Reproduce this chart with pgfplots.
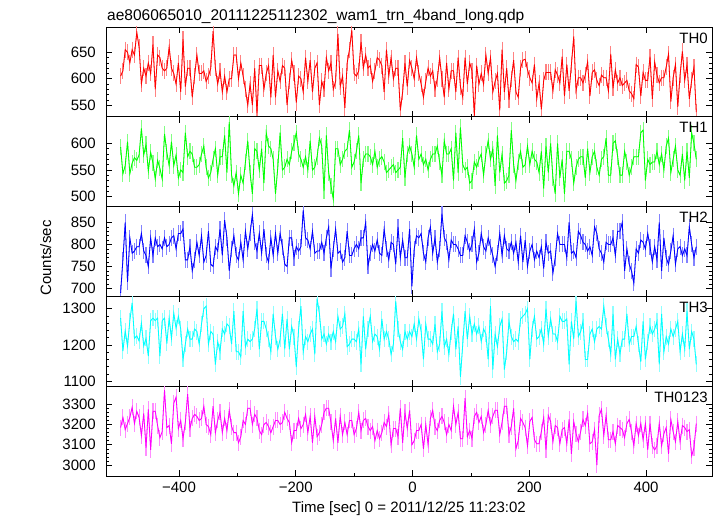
\documentclass[border=0pt]{standalone}
\usepackage{pgfplots}
\usepackage{pgfplotstable}
\pgfplotsset{compat=1.18}
\usepackage{fontspec}
\setmainfont{Liberation Sans}
\definecolor{cR}{RGB}{255,0,0}
\definecolor{cG}{RGB}{0,255,0}
\definecolor{cB}{RGB}{0,0,255}
\definecolor{cC}{RGB}{0,255,255}
\definecolor{cM}{RGB}{255,0,255}
\definecolor{lR}{RGB}{255,130,130}
\definecolor{lG}{RGB}{130,255,130}
\definecolor{lB}{RGB}{130,130,255}
\definecolor{lC}{RGB}{140,255,255}
\definecolor{lM}{RGB}{255,140,255}

\pgfplotstableread[row sep=\\]{y\\
605\\615\\655\\650\\630\\655\\645\\688\\660\\590\\620\\605\\630\\610\\665\\580\\645\\640\\620\\615\\620\\660\\620\\610\\590\\
630\\575\\675\\585\\620\\620\\565\\605\\645\\610\\610\\615\\595\\605\\620\\690\\620\\590\\615\\575\\605\\575\\600\\600\\645\\
645\\600\\630\\605\\580\\550\\590\\550\\620\\535\\625\\625\\580\\610\\625\\565\\645\\565\\615\\595\\625\\620\\550\\595\\635\\
610\\555\\605\\600\\575\\640\\595\\635\\575\\620\\630\\550\\595\\580\\640\\615\\630\\580\\595\\685\\585\\605\\545\\630\\655\\
692\\610\\605\\615\\670\\620\\645\\620\\625\\595\\615\\640\\635\\625\\575\\655\\605\\640\\600\\620\\620\\540\\575\\630\\585\\
635\\620\\600\\640\\610\\590\\565\\595\\620\\605\\615\\580\\600\\640\\600\\565\\630\\580\\615\\615\\575\\640\\585\\565\\640\\
590\\630\\615\\530\\625\\590\\610\\590\\645\\610\\640\\575\\595\\610\\540\\655\\575\\620\\560\\600\\635\\575\\565\\620\\635\\
637\\617\\602\\592\\627\\562\\592\\542\\597\\612\\612\\612\\577\\617\\607\\592\\642\\567\\627\\577\\627\\680\\577\\602\\602\\
592\\607\\632\\567\\612\\617\\597\\587\\607\\602\\602\\577\\647\\582\\617\\592\\602\\587\\592\\597\\577\\572\\562\\627\\622\\
567\\612\\597\\597\\642\\562\\632\\607\\592\\602\\602\\622\\647\\557\\602\\627\\547\\607\\652\\597\\627\\562\\597\\622\\537\\
}\tzero

\pgfplotstableread[row sep=\\]{y\\
593\\543\\558\\603\\543\\563\\573\\568\\578\\628\\578\\598\\548\\583\\563\\533\\568\\553\\533\\618\\583\\558\\603\\558\\578\\
535\\550\\545\\620\\575\\585\\580\\555\\555\\560\\580\\595\\555\\535\\545\\570\\590\\540\\575\\575\\615\\545\\640\\540\\520\\
545\\505\\540\\525\\565\\605\\545\\505\\590\\585\\550\\590\\525\\620\\595\\590\\570\\505\\555\\620\\550\\555\\570\\560\\585\\
600\\620\\580\\570\\555\\575\\550\\605\\550\\555\\575\\610\\595\\510\\615\\545\\520\\495\\590\\590\\560\\570\\585\\590\\625\\
555\\565\\585\\615\\525\\570\\580\\580\\575\\560\\585\\555\\570\\575\\565\\545\\550\\555\\560\\545\\550\\555\\610\\535\\580\\
595\\580\\555\\615\\570\\580\\560\\570\\550\\570\\580\\580\\595\\565\\540\\605\\580\\580\\590\\530\\620\\545\\630\\560\\550\\
555\\525\\530\\565\\555\\570\\580\\540\\580\\605\\570\\590\\520\\615\\545\\580\\525\\530\\540\\625\\560\\530\\565\\585\\555\\
560\\595\\560\\585\\570\\565\\545\\585\\515\\595\\545\\600\\535\\505\\600\\535\\570\\505\\585\\585\\570\\525\\555\\570\\575\\
575\\535\\590\\545\\575\\585\\555\\540\\570\\575\\610\\540\\540\\600\\605\\575\\540\\540\\585\\565\\540\\555\\575\\575\\575\\
620\\625\\530\\570\\560\\565\\565\\585\\560\\580\\550\\595\\610\\545\\570\\595\\550\\540\\580\\530\\585\\535\\620\\600\\570\\
}\tone

\pgfplotstableread[row sep=\\]{y\\
690\\765\\850\\715\\815\\780\\785\\795\\795\\825\\785\\775\\750\\815\\775\\815\\795\\800\\790\\815\\795\\800\\815\\820\\790\\
825\\825\\835\\765\\765\\795\\740\\765\\805\\775\\820\\760\\775\\830\\755\\750\\795\\785\\835\\775\\855\\815\\740\\790\\820\\
775\\765\\805\\765\\830\\790\\825\\868\\805\\785\\825\\780\\835\\775\\760\\815\\775\\825\\780\\825\\795\\755\\750\\815\\815\\
770\\795\\785\\795\\878\\815\\810\\790\\830\\780\\785\\785\\805\\780\\815\\840\\745\\790\\835\\780\\785\\760\\770\\830\\775\\
775\\790\\800\\790\\815\\815\\850\\750\\780\\800\\785\\810\\780\\775\\835\\790\\765\\805\\800\\755\\840\\770\\810\\770\\770\\
835\\705\\790\\820\\815\\825\\780\\760\\815\\840\\780\\815\\760\\790\\870\\815\\805\\765\\810\\800\\800\\790\\775\\775\\820\\
805\\785\\800\\835\\760\\780\\825\\795\\785\\815\\795\\775\\750\\780\\825\\775\\820\\790\\785\\805\\780\\805\\760\\820\\760\\
810\\750\\785\\800\\765\\785\\770\\795\\745\\805\\780\\785\\735\\770\\825\\800\\800\\800\\770\\850\\780\\785\\770\\830\\820\\
805\\800\\785\\795\\775\\840\\825\\790\\780\\760\\805\\800\\800\\815\\775\\830\\830\\850\\740\\790\\755\\740\\712\\790\\780\\
810\\805\\790\\825\\795\\760\\795\\765\\850\\740\\815\\770\\755\\785\\820\\755\\790\\795\\775\\790\\775\\840\\800\\770\\795\\
}\ttwo

\pgfplotstableread[row sep=\\]{y\\
1274\\1183\\1239\\1197\\1267\\1316\\1218\\1225\\1211\\1260\\1197\\1218\\1169\\1267\\1274\\1267\\1274\\1169\\1267\\1274\\1204\\1274\\1218\\1288\\1246\\
1279\\1244\\1160\\1202\\1244\\1216\\1216\\1244\\1237\\1202\\1258\\1300\\1307\\1202\\1237\\1230\\1146\\1209\\1181\\1244\\1230\\1258\\1251\\1202\\1293\\
1181\\1181\\1167\\1293\\1195\\1216\\1209\\1216\\1244\\1300\\1188\\1265\\1265\\1244\\1216\\1181\\1286\\1223\\1188\\1216\\1286\\1188\\1272\\1188\\1251\\
1223\\1139\\1244\\1307\\1181\\1223\\1209\\1230\\1244\\1174\\1328\\1286\\1216\\1230\\1202\\1230\\1209\\1237\\1209\\1279\\1244\\1251\\1286\\1195\\1202\\
1216\\1216\\1209\\1244\\1146\\1279\\1188\\1244\\1279\\1209\\1230\\1223\\1188\\1272\\1216\\1237\\1216\\1174\\1202\\1321\\1244\\1209\\1188\\1237\\1216\\
1237\\1223\\1258\\1216\\1272\\1237\\1160\\1258\\1216\\1216\\1202\\1258\\1181\\1202\\1293\\1195\\1216\\1174\\1237\\1286\\1188\\1251\\1112\\1202\\1293\\
1216\\1279\\1230\\1258\\1230\\1251\\1209\\1244\\1230\\1160\\1307\\1132\\1230\\1195\\1251\\1272\\1132\\1181\\1265\\1223\\1209\\1216\\1209\\1272\\1279\\
1286\\1300\\1160\\1244\\1279\\1216\\1223\\1244\\1202\\1300\\1223\\1272\\1230\\1230\\1209\\1279\\1265\\1265\\1272\\1146\\1265\\1216\\1321\\1223\\1237\\
1265\\1160\\1160\\1230\\1244\\1209\\1244\\1251\\1244\\1307\\1251\\1216\\1174\\1286\\1160\\1216\\1174\\1216\\1216\\1286\\1202\\1223\\1223\\1251\\1202\\
1153\\1265\\1160\\1209\\1251\\1230\\1244\\1265\\1146\\1286\\1181\\1223\\1202\\1244\\1223\\1244\\1265\\1181\\1230\\1188\\1293\\1188\\1237\\1216\\1146\\
}\tthree

\pgfplotstableread[row sep=\\]{y\\
3185\\3235\\3175\\3205\\3235\\3285\\3205\\3265\\3235\\3145\\3255\\3085\\3275\\3075\\3265\\3265\\3195\\3135\\3165\\3370\\3185\\3195\\3105\\3305\\3335\\
3180\\3220\\3130\\3210\\3350\\3180\\3230\\3250\\3240\\3220\\3230\\3290\\3200\\3190\\3150\\3290\\3160\\3220\\3260\\3160\\3230\\3170\\3270\\3190\\3160\\
3160\\3110\\3140\\3220\\3200\\3280\\3280\\3200\\3250\\3230\\3170\\3150\\3200\\3210\\3190\\3160\\3190\\3220\\3220\\3200\\3210\\3260\\3230\\3210\\3110\\
3170\\3170\\3230\\3180\\3200\\3250\\3160\\3240\\3110\\3240\\3140\\3160\\3200\\3260\\3280\\3280\\3210\\3120\\3230\\3110\\3240\\3150\\3210\\3150\\3220\\
3220\\3150\\3180\\3260\\3170\\3220\\3230\\3190\\3170\\3190\\3120\\3170\\3130\\3160\\3210\\3190\\3250\\3100\\3180\\3180\\3140\\3280\\3110\\3260\\3180\\
3270\\3100\\3120\\3170\\3170\\3200\\3080\\3200\\3100\\3230\\3270\\3190\\3170\\3220\\3240\\3210\\3150\\3200\\3170\\3290\\3200\\3260\\3130\\3130\\3330\\
3140\\3170\\3130\\3240\\3260\\3210\\3240\\3160\\3200\\3270\\3200\\3240\\3270\\3270\\3150\\3210\\3290\\3290\\3150\\3190\\3280\\3080\\3120\\3230\\3210\\
3185\\3095\\3215\\3235\\3125\\3105\\3105\\3165\\3235\\3075\\3245\\3215\\3115\\3195\\3185\\3105\\3175\\3185\\3105\\3225\\3055\\3215\\3155\\3115\\3165\\
3225\\3195\\3255\\3105\\3115\\3175\\3000\\3245\\3275\\3145\\3245\\3125\\3125\\3165\\3105\\3195\\3185\\3175\\3135\\3205\\3225\\3165\\3095\\3205\\3145\\
3205\\3125\\3205\\3075\\3205\\3095\\3075\\3095\\3205\\3095\\3155\\3185\\3055\\3225\\3165\\3115\\3215\\3115\\3195\\3185\\3165\\3175\\3045\\3085\\3205\\
}\tfour

\pgfplotsset{
  panel/.style={
    scale only axis, width=606pt, height=89.8pt,
    anchor=north west,
    xmin=-525, xmax=513,
    xtick={-400,-200,0,200,400},
    minor x tick num=1, minor y tick num=4,
    tick align=inside,
    xtick pos=both, ytick pos=both,
    xticklabels={},
    major tick length=6pt, minor tick length=3pt,
    tick style={black, line width=0.6pt},
    axis line style={black, line width=0.9pt},
    clip marker paths=true,
    /pgf/number format/assume math mode=true,
    /pgf/number format/1000 sep={},
    yticklabel style={inner sep=0pt, xshift=-10pt},
    xticklabel style={inner sep=0pt, yshift=-6pt},
  },
}

\begin{document}
\fontsize{15}{18}\selectfont
\begin{tikzpicture}[x=1pt,y=1pt]
\path[use as bounding box] (0,0) rectangle (717,-516);

\node[anchor=base west, inner sep=0pt, font=\fontsize{15.5}{18}\selectfont] at (107,-20.5) {ae806065010\_20111225112302\_wam1\_trn\_4band\_long.qdp};
\node[rotate=90, inner sep=0pt, anchor=base] at (51,-258) {Counts/sec};

% TH0
\begin{axis}[panel, at={(106pt,-27pt)}, ymin=528, ymax=698, ytick={550,600,650}]
\addplot[draw=lR, line width=0.8pt, mark=|, mark size=8pt, mark options={draw=lR, line width=1.1pt, solid}] table[x expr={-500+3.96*\coordindex}, y=y] {\tzero};
\addplot[draw=cR, line width=0.8pt, mark=none] table[x expr={-500+3.96*\coordindex}, y=y] {\tzero};
\node[anchor=north east, inner sep=0pt] at (rel axis cs:1,1) [xshift=-4pt, yshift=-5.5pt] {TH0};
\end{axis}

% TH1
\begin{axis}[panel, at={(106pt,-116.8pt)}, ymin=481, ymax=650, ytick={500,550,600}]
\addplot[draw=lG, line width=0.8pt, mark=|, mark size=8pt, mark options={draw=lG, line width=1.1pt, solid}] table[x expr={-500+3.96*\coordindex}, y=y] {\tone};
\addplot[draw=cG, line width=0.8pt, mark=none] table[x expr={-500+3.96*\coordindex}, y=y] {\tone};
\node[anchor=north east, inner sep=0pt] at (rel axis cs:1,1) [xshift=-4pt, yshift=-5.5pt] {TH1};
\end{axis}

% TH2
\begin{axis}[panel, at={(106pt,-206.6pt)}, ymin=682, ymax=886, ytick={700,750,800,850}]
\addplot[draw=lB, line width=0.8pt, mark=|, mark size=8pt, mark options={draw=lB, line width=1.1pt, solid}] table[x expr={-500+3.96*\coordindex}, y=y] {\ttwo};
\addplot[draw=cB, line width=0.8pt, mark=none] table[x expr={-500+3.96*\coordindex}, y=y] {\ttwo};
\node[anchor=north east, inner sep=0pt] at (rel axis cs:1,1) [xshift=-4pt, yshift=-5.5pt] {TH2};
\end{axis}

% TH3
\begin{axis}[panel, at={(106pt,-296.4pt)}, ymin=1086, ymax=1334, ytick={1100,1200,1300}]
\addplot[draw=lC, line width=0.8pt, mark=|, mark size=8pt, mark options={draw=lC, line width=1.1pt, solid}] table[x expr={-500+3.96*\coordindex}, y=y] {\tthree};
\addplot[draw=cC, line width=0.8pt, mark=none] table[x expr={-500+3.96*\coordindex}, y=y] {\tthree};
\node[anchor=north east, inner sep=0pt] at (rel axis cs:1,1) [xshift=-4pt, yshift=-5.5pt] {TH3};
\end{axis}

% TH0123
\begin{axis}[panel, at={(106pt,-386.2pt)}, ymin=2946, ymax=3389, ytick={3000,3100,3200,3300},
  xticklabels={−400,−200,0,200,400},
  xlabel={Time [sec] 0 = 2011/12/25 11:23:02},
  xlabel style={at={(axis description cs:0.5,0)}, anchor=base, inner sep=0pt, yshift=-36pt}]
\addplot[draw=lM, line width=0.8pt, mark=|, mark size=8pt, mark options={draw=lM, line width=1.1pt, solid}] table[x expr={-500+3.96*\coordindex}, y=y] {\tfour};
\addplot[draw=cM, line width=0.8pt, mark=none] table[x expr={-500+3.96*\coordindex}, y=y] {\tfour};
\node[anchor=north east, inner sep=0pt] at (rel axis cs:1,1) [xshift=-4pt, yshift=-5.5pt] {TH0123};
\end{axis}
\end{tikzpicture}
\end{document}
